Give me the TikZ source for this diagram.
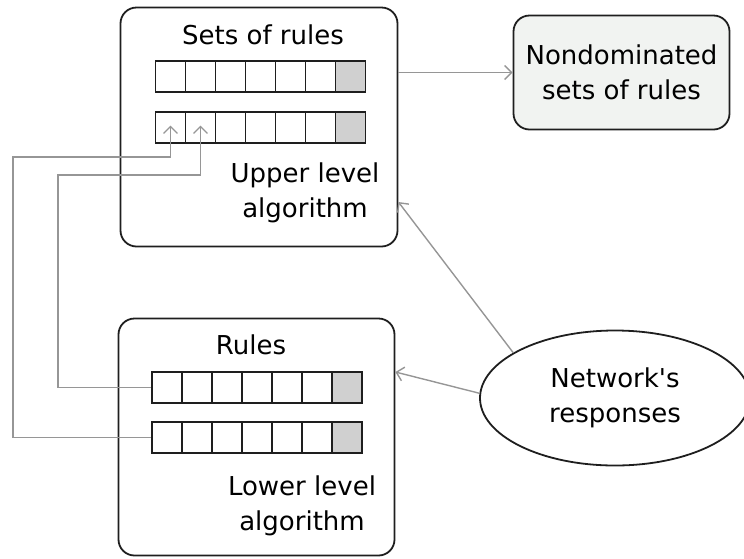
\documentclass[tikz,border=0pt]{standalone}
\usepackage{fontspec}
\setmainfont{DejaVu Sans}
\usepackage{tikz}
\usetikzlibrary{shapes.geometric,arrows.meta}

\definecolor{linegray}{RGB}{150,150,150}
\definecolor{cellgray}{RGB}{208,208,208}
\definecolor{boxfill}{RGB}{241,243,241}
\definecolor{edge}{RGB}{30,30,30}

\tikzset{
	box/.style={draw=edge, line width=1.8pt, rounded corners=16pt, inner sep=0pt},
	cell/.style={draw=edge, line width=1.8pt, minimum width=30pt, minimum height=31pt, inner sep=0pt},
	flow/.style={draw=linegray, line width=1.4pt, -{Straight Barb[length=7pt,width=14pt]}},
	txt/.style={font=\fontsize{26}{35}\selectfont, align=center, inner sep=0pt}
}

\begin{document}
\begin{tikzpicture}[x=1pt,y=-1pt]
\useasboundingbox (0,0) rectangle (744,558);

% upper level
\node[box, minimum width=277pt, minimum height=239pt] (upper) at (259,127) {};
\node[txt] (setslabel) at (263,35) {Sets of rules};
	\foreach \i in {1,...,6}{
	\node[cell] (ua\i) at ({140.5+30*\i},76.5) {};
	\node[cell] (ub\i) at ({140.5+30*\i},127.5) {};
	}
	\node[cell, fill=cellgray] (ua7) at (350.5,76.5) {};
	\node[cell, fill=cellgray] (ub7) at (350.5,127.5) {};
\node[txt] (upperlabel) at (305,193) {Upper level\\algorithm};

% lower level
\node[box, minimum width=276pt, minimum height=237pt] (lower) at (256.5,437) {};
\node[txt] (ruleslabel) at (251,345) {Rules};
	\foreach \i in {1,...,6}{
	\node[cell] (la\i) at ({137+30*\i},387.5) {};
	\node[cell] (lb\i) at ({137+30*\i},437.5) {};
	}
	\node[cell, fill=cellgray] (la7) at (347,387.5) {};
	\node[cell, fill=cellgray] (lb7) at (347,437.5) {};
\node[txt] (lowerlabel) at (302,506) {Lower level\\algorithm};

\node[box, fill=boxfill, minimum width=216pt, minimum height=114pt, txt] (nondom) at (621.5,72.5) {Nondominated\\sets of rules};
\node[draw=edge, line width=1.8pt, ellipse, minimum width=270pt, minimum height=135pt, txt] (resp) at (615,398) {Network\textquotesingle s\\responses};

	\draw[flow] (upper.east |- nondom.west) -- (nondom.west);
	\draw[flow] (resp.156) -- ([yshift=-75pt]upper.east);
	\draw[flow] (resp.178) -- ([yshift=65pt]lower.east);
	\draw[flow] (la1.west) -| (58,175) -| ([yshift=2pt]ub2.center);
	\draw[flow] (lb1.west) -| (13,157) -| ([yshift=2pt]ub1.center);
\end{tikzpicture}
\end{document}
